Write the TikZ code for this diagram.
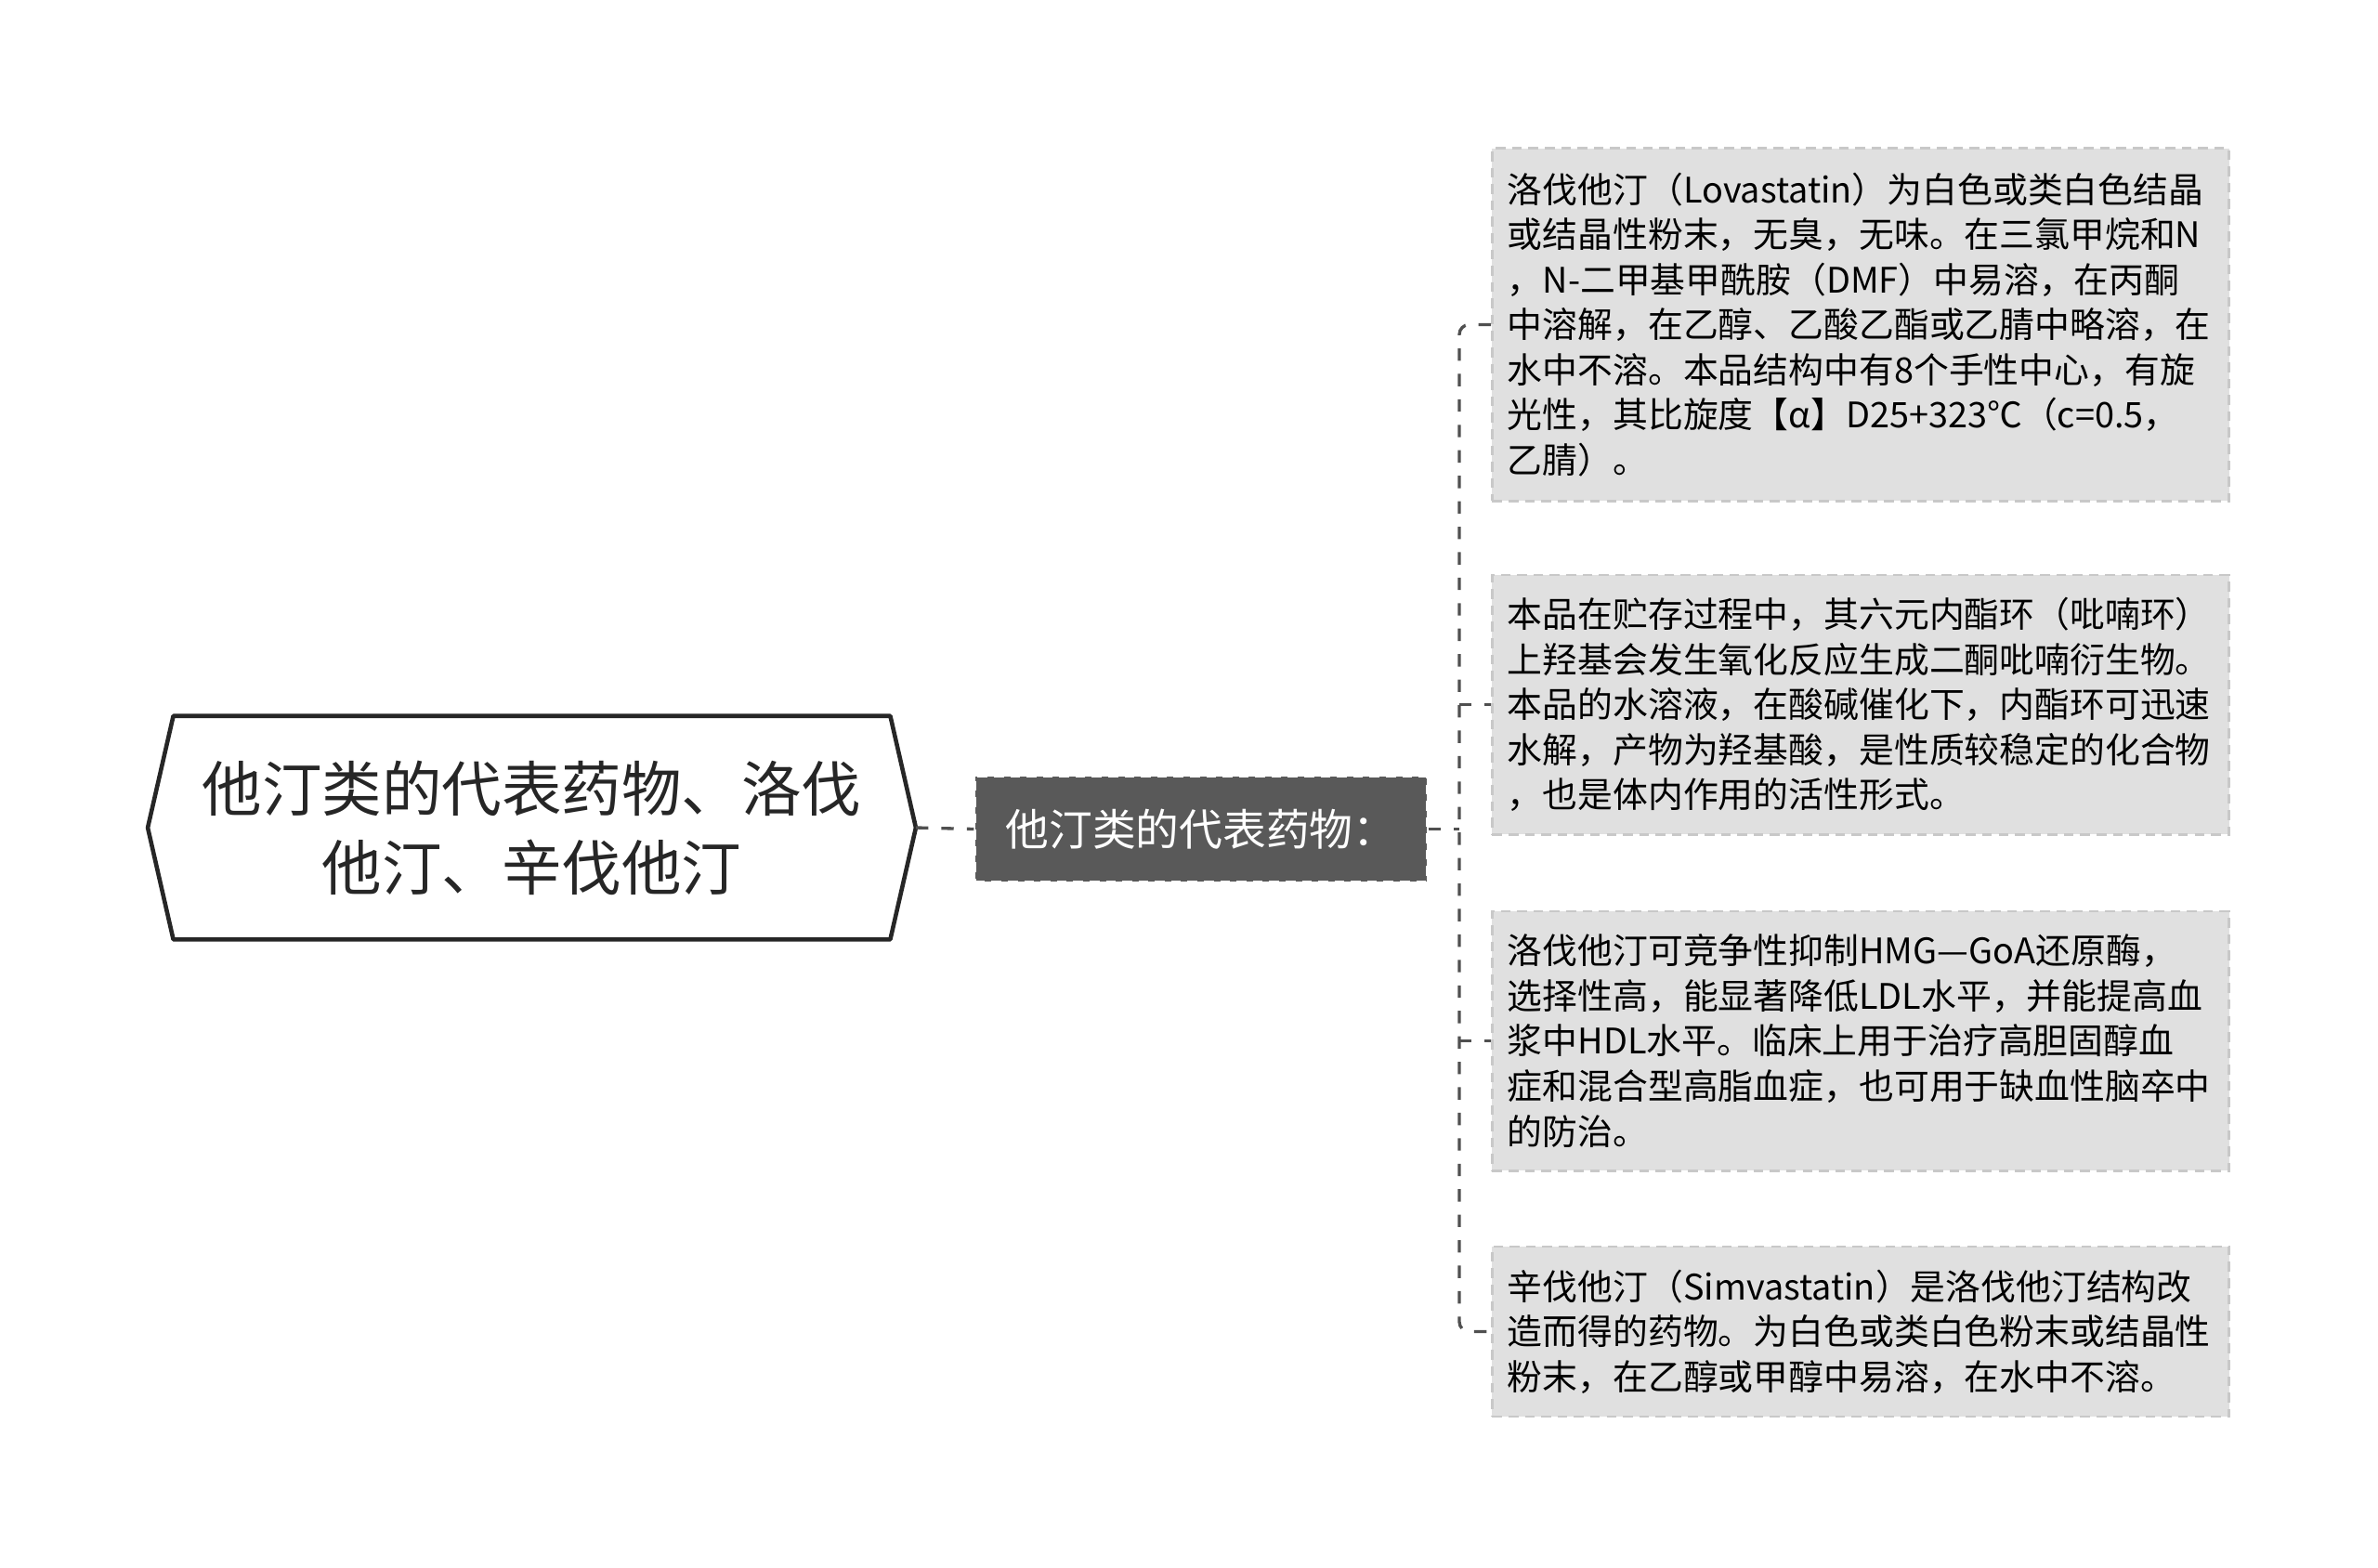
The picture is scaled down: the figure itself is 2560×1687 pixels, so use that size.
\documentclass[tikz,border=0pt]{standalone}
\usepackage{fontspec}
\setmainfont{Noto Sans CJK SC}
\definecolor{lineg}{RGB}{80,80,80}
\definecolor{midg}{RGB}{89,89,89}
\definecolor{leafg}{RGB}{224,224,224}
\definecolor{leafb}{RGB}{200,200,200}

\begin{document}
\begin{tikzpicture}[x=0.01cm,y=-0.01cm,
  conn/.style={draw=lineg,line width=0.95pt,dash pattern=on 3.8pt off 4pt},
  leaf/.style={anchor=west,fill=leafg,draw=leafb,line width=0.8pt,dash pattern=on 3pt off 2pt,
    text width=7.6cm,inner xsep=0.165cm,align=left,
    font=\fontsize{10.76pt}{13.8pt}\selectfont}]
\useasboundingbox (0,0) rectangle (2560,1687);
%\fill[white] (0,0) rectangle (2560,1687);

% root
\node[minimum width=8.25cm,minimum height=2.39cm,align=center,
  font=\fontsize{18.35pt}{24.2pt}\selectfont,text=black!85] (root) at (572.5,891)
  {他汀类的代表药物、洛伐\\他汀、辛伐他汀};
\draw[line width=1.3pt,draw=black!85,line join=round] (root.west) -- ([xshift=0.275cm]root.north west)
  -- ([xshift=-0.275cm]root.north east) -- (root.east)
  -- ([xshift=-0.275cm]root.south east) -- ([xshift=0.275cm]root.south west) -- cycle;

% middle
\node[minimum width=4.86cm,minimum height=1.13cm,fill=midg,draw=white,line width=0.8pt,
  dash pattern=on 3pt off 2pt,text=white,font=\fontsize{13.3pt}{16pt}\selectfont] (mid) at (1293,892.5)
  {他汀类的代表药物：};

% leaves
\node[leaf,minimum height=3.79cm] (l1) at (1605,349.5)
  {洛伐他汀（Lovastatin）为白色或类白色结晶\\
   或结晶性粉末，无臭，无味。在三氯甲烷和N\\
   ，N-二甲基甲酰胺（DMF）中易溶，在丙酮\\
   中溶解，在乙醇、乙酸乙酯或乙腈中略溶，在\\
   水中不溶。本品结构中有8个手性中心，有旋\\
   光性，其比旋度【α】D25+323℃（c=0.5，\\
   乙腈）。};
\node[leaf,minimum height=2.79cm] (l2) at (1605,758.5)
  {本品在贮存过程中，其六元内酯环（吡喃环）\\
   上羟基会发生氧化反应生成二酮吡喃衍生物。\\
   本品的水溶液，在酸碱催化下，内酯环可迅速\\
   水解，产物为羟基酸，是性质较稳定的化合物\\
   ，也是体内作用的活性形式。};
\node[leaf,minimum height=2.79cm] (l3) at (1605,1120.5)
  {洛伐他汀可竞争性抑制HMG—GoA还原酶，\\
   选择性高，能显著降低LDL水平，并能提高血\\
   浆中HDL水平。临床上用于治疗高胆固醇血\\
   症和混合型高脂血症，也可用于缺血性脑卒中\\
   的防治。};
\node[leaf,minimum height=1.83cm] (l4) at (1605,1433.5)
  {辛伐他汀（Simvastatin）是洛伐他汀结构改\\
   造而得的药物。为白色或类白色粉末或结晶性\\
   粉末，在乙醇或甲醇中易溶，在水中不溶。};

% connectors
\coordinate (trunk) at (1571,892.5);
\draw[conn] (root.east) -- (mid.west);
\draw[conn] (mid.east) -- (trunk);
\draw[conn,rounded corners=3pt] (l1.west) -| (trunk |- l4.west) -- (l4.west);
\draw[conn] (trunk |- l2.west) -- (l2.west);
\draw[conn] (trunk |- l3.west) -- (l3.west);
\end{tikzpicture}
\end{document}
